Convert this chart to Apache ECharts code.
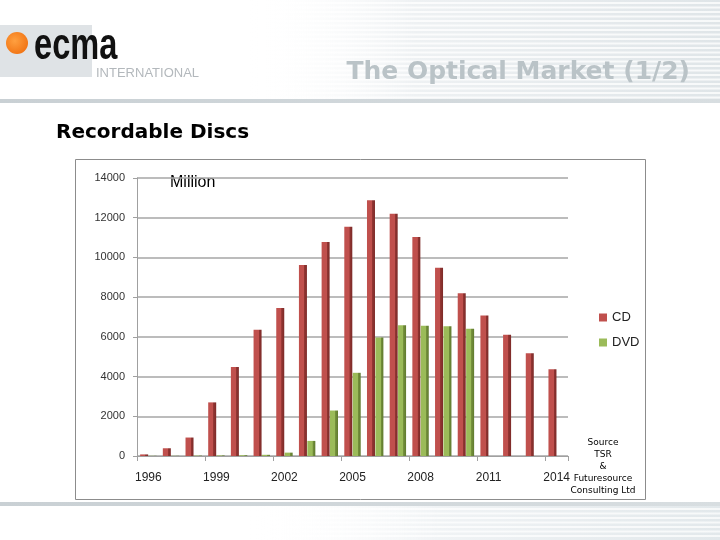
<!DOCTYPE html>
<html>
<head>
<meta charset="utf-8">
<script src="https://cdn.jsdelivr.net/npm/echarts@6/dist/echarts.min.js"></script>
<style>html,body{margin:0;padding:0;background:#fff;}#c{width:720px;height:540px;}</style>
</head>
<body>
<div id="c"></div>
<script>
var years = ['1996','1997','1998','1999','2000','2001','2002','2003','2004','2005','2006','2007','2008','2009','2010','2011','2012','2013','2014'];
var cdValues = [80, 390, 930, 2700, 4480, 6360, 7450, 9620, 10780, 11550, 12880, 12200, 11030, 9480, 8200, 7080, 6100, 5170, 4370];
var dvdValues = [10, 10, 20, 30, 40, 60, 170, 760, 2290, 4190, 5970, 6590, 6560, 6540, 6410, null, null, null, null];
var seriesNames = ['CD', 'DVD'];
var sourceLines = ['Source', 'TSR', '&', 'Futuresource', 'Consulting Ltd'];

var chart = echarts.init(document.getElementById('c'));

function grad(c1, c2, c3) {
  return new echarts.graphic.LinearGradient(0, 0, 1, 0, [
    {offset: 0, color: c1}, {offset: 0.64, color: c1},
    {offset: 0.66, color: c2}, {offset: 1, color: c3}
  ]);
}

var deco = [];
// header background gradient
deco.push({type: 'rect', z: -10, shape: {x: 250, y: 0, width: 470, height: 100},
  style: {fill: new echarts.graphic.LinearGradient(0, 0, 1, 0, [
    {offset: 0, color: 'rgba(255,255,255,0)'}, {offset: 0.35, color: '#eef1f3'}, {offset: 1, color: '#dfe5e8'}])}});
for (var i = 0; i < 22; i++) {
  deco.push({type: 'rect', z: -9, shape: {x: 250, y: 2 + i * 4.5, width: 470, height: 2},
    style: {fill: 'rgba(255,255,255,0.75)'}});
}
// footer background
deco.push({type: 'rect', z: -10, shape: {x: 250, y: 506, width: 470, height: 34},
  style: {fill: new echarts.graphic.LinearGradient(0, 0, 1, 0, [
    {offset: 0, color: 'rgba(255,255,255,0)'}, {offset: 0.4, color: '#f0f3f5'}, {offset: 1, color: '#e2e8eb'}])}});
for (var j = 0; j < 7; j++) {
  deco.push({type: 'rect', z: -9, shape: {x: 250, y: 508 + j * 4.5, width: 470, height: 2},
    style: {fill: 'rgba(255,255,255,0.7)'}});
}
// separator lines
deco.push({type: 'rect', shape: {x: 0, y: 99, width: 720, height: 4},
  style: {fill: new echarts.graphic.LinearGradient(0, 0, 1, 0, [
    {offset: 0, color: '#c9d0d4'}, {offset: 1, color: '#d8dee1'}])}});
deco.push({type: 'rect', shape: {x: 0, y: 502, width: 720, height: 4},
  style: {fill: new echarts.graphic.LinearGradient(0, 0, 1, 0, [
    {offset: 0, color: '#c9d0d4'}, {offset: 1, color: '#d8dee1'}])}});
// logo
deco.push({type: 'rect', shape: {x: 0, y: 25, width: 92, height: 52}, style: {fill: '#dfe3e6'}});
deco.push({type: 'circle', shape: {cx: 17, cy: 43, r: 11},
  style: {fill: new echarts.graphic.RadialGradient(0.4, 0.4, 0.7, [
    {offset: 0, color: '#ffa040'}, {offset: 1, color: '#f07010'}])}});
deco.push({type: 'text', x: 27, y: 47, scaleX: 0.74, originX: 27,
  style: {text: 'ecma', font: 'bold 44px "Liberation Sans", Arial', fill: '#111', textVerticalAlign: 'middle'}});
deco.push({type: 'text', x: 96, y: 73,
  style: {text: 'INTERNATIONAL', font: '13px "Liberation Sans", Arial', fill: '#b3b8bc', textVerticalAlign: 'middle'}});
// titles
deco.push({type: 'text', x: 690, y: 72,
  style: {text: 'The Optical Market (1/2)', font: 'bold 25px "DejaVu Sans", Verdana', fill: '#bac3c7', textAlign: 'right', textVerticalAlign: 'middle'}});
deco.push({type: 'text', x: 56, y: 133,
  style: {text: 'Recordable Discs', font: 'bold 20px "DejaVu Sans", Verdana', fill: '#000', textVerticalAlign: 'middle'}});
// chart frame
deco.push({type: 'rect', z: -5, shape: {x: 75.5, y: 159.5, width: 570, height: 340},
  style: {fill: '#fff', stroke: '#8c8c8c', lineWidth: 1}});
deco.push({type: 'text', x: 170, y: 183,
  style: {text: 'Million', font: '16px "Liberation Sans", Arial', fill: '#000', textVerticalAlign: 'middle'}});
for (var k = 0; k < sourceLines.length; k++) {
  deco.push({type: 'text', x: 603, y: 443 + k * 12,
    style: {text: sourceLines[k], font: '9px "DejaVu Sans", Verdana', fill: '#000', textAlign: 'center', textVerticalAlign: 'middle'}});
}

chart.setOption({
  animation: false,
  grid: {left: 137, right: 152, top: 178, bottom: 84, containLabel: false},
  legend: {
    orient: 'vertical', left: 594, top: 306, itemWidth: 8, itemHeight: 8, itemGap: 12,
    icon: 'rect',
    textStyle: {fontSize: 13, color: '#222', fontFamily: '"Liberation Sans", Arial'},
    data: [{name: seriesNames[0], itemStyle: {color: '#c0504d'}}, {name: seriesNames[1], itemStyle: {color: '#9bbb59'}}]
  },
  xAxis: {
    type: 'category', data: years,
    axisLine: {lineStyle: {color: '#a0a0a0'}},
    axisTick: {show: true, lineStyle: {color: '#a0a0a0'}, length: 5},
    axisLabel: {interval: 2, color: '#222', fontSize: 12, margin: 16, fontFamily: '"Liberation Sans", Arial'}
  },
  yAxis: {
    type: 'value', min: 0, max: 14000, interval: 2000,
    axisLine: {show: true, lineStyle: {color: '#a0a0a0'}},
    axisTick: {show: true, length: 4, lineStyle: {color: '#a0a0a0'}},
    splitLine: {lineStyle: {color: '#a6a6a6', width: 1.5}},
    axisLabel: {color: '#333', fontSize: 11, margin: 12, fontFamily: '"Liberation Sans", Arial',
      formatter: function (v) { return String(v); }}
  },
  series: [
    {name: seriesNames[0], type: 'bar', data: cdValues, barWidth: 8, barGap: '5%',
      itemStyle: {color: grad('#c0504d', '#943633', '#7c2a28')}},
    {name: seriesNames[1], type: 'bar', data: dvdValues, barWidth: 8, barGap: '5%',
      itemStyle: {color: grad('#9bbb59', '#76923c', '#5f7a2e')}}
  ],
  graphic: deco
});
</script>
</body>
</html>
